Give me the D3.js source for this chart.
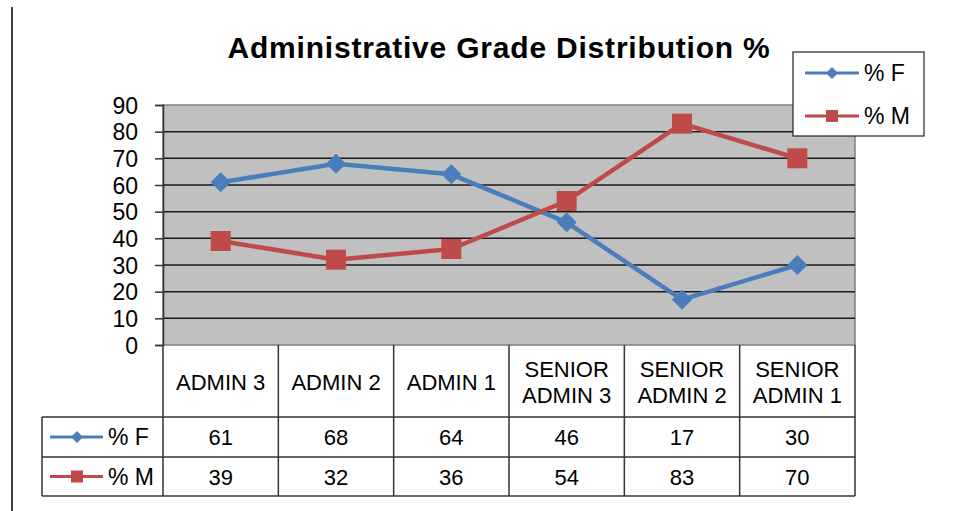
<!DOCTYPE html>
<html lang="en">
  <head>
    <meta charset="UTF-8" />
    <title>Administrative Grade Distribution %</title>
    <script src="https://cdn.jsdelivr.net/npm/d3@7"></script>
    <style>
      body { margin: 0; background: #fff; }
      svg { display: block; font-family: "Liberation Sans", Arial, sans-serif; }
    </style>
  </head>
  <body>
    <svg width="954" height="511"></svg>
    <script>
      // data
      const categories = [["ADMIN 3"], ["ADMIN 2"], ["ADMIN 1"], ["SENIOR", "ADMIN 3"], ["SENIOR", "ADMIN 2"], ["SENIOR", "ADMIN 1"]];
      const femaleValues = [61, 68, 64, 46, 17, 30];
      const maleValues = [39, 32, 36, 54, 83, 70];
      const yTicks = [0, 10, 20, 30, 40, 50, 60, 70, 80, 90];

      const series = [
        { name: "% F", values: femaleValues, color: "#4a7ebb", marker: "diamond" },
        { name: "% M", values: maleValues, color: "#be4b48", marker: "square" },
      ];

      const plot = { left: 163, right: 855, top: 105, bottom: 345 };
      const rowBottoms = [417, 457, 496];

      const svg = d3.select("svg");

      // border line on the left of the chart area
      svg.append("line").attr("x1", 12).attr("x2", 12).attr("y1", 7).attr("y2", 511)
        .attr("stroke", "#000").attr("stroke-width", 1.5);

      svg.append("text").attr("x", 499).attr("y", 58).attr("text-anchor", "middle")
        .attr("font-size", 30).attr("font-weight", "bold").attr("letter-spacing", 0.8)
        .text("Administrative Grade Distribution %");

      const x = d3.scaleBand().domain(d3.range(categories.length)).range([plot.left, plot.right]);
      const y = d3.scaleLinear().domain([0, 90]).range([plot.bottom, plot.top]);

      svg.append("rect").attr("x", plot.left).attr("y", plot.top)
        .attr("width", plot.right - plot.left).attr("height", plot.bottom - plot.top)
        .attr("fill", "#c0c0c0").attr("stroke", "#808080").attr("stroke-width", 1.5);

      svg.append("g").selectAll("line").data(yTicks.slice(1, -1)).join("line")
        .attr("x1", plot.left).attr("x2", plot.right)
        .attr("y1", d => y(d)).attr("y2", d => y(d))
        .attr("stroke", "#1a1a1a").attr("stroke-width", 1.5);

      const yAxis = svg.append("g").attr("transform", `translate(${plot.left},0)`)
        .call(d3.axisLeft(y).tickValues(yTicks).tickSize(8).tickPadding(17));
      yAxis.select(".domain").attr("stroke", "#333").attr("stroke-width", 1.5);
      yAxis.selectAll(".tick line").attr("stroke", "#333").attr("stroke-width", 1.5);
      yAxis.selectAll("text").attr("font-size", 23).attr("fill", "#000")
        .attr("font-family", "Liberation Sans, Arial, sans-serif").attr("dy", "0.36em");

      // lines and markers
      const line = d3.line().x((d, i) => x(i) + x.bandwidth() / 2).y(d => y(d));
      const diamond = s => `M0,${-s}L${s},0L0,${s}L${-s},0Z`;
      const square = s => `M${-s},${-s}H${s}V${s}H${-s}Z`;

      series.forEach(s => {
        svg.append("path").attr("d", line(s.values)).attr("fill", "none")
          .attr("stroke", s.color).attr("stroke-width", 4.5).attr("stroke-linejoin", "round");
      });
      series.forEach(s => {
        svg.append("g").selectAll("path").data(s.values).join("path")
          .attr("transform", (d, i) => `translate(${x(i) + x.bandwidth() / 2},${y(d)})`)
          .attr("d", s.marker === "diamond" ? diamond(10) : square(10))
          .attr("fill", s.color);
      });

      // data table under the plot
      const table = svg.append("g").attr("stroke", "#333").attr("stroke-width", 1.5).attr("fill", "none");
      const tableLeft = 42;
      rowBottoms.forEach(yy => {
        table.append("line").attr("x1", tableLeft).attr("x2", plot.right).attr("y1", yy).attr("y2", yy);
      });
      table.append("line").attr("x1", tableLeft).attr("x2", tableLeft).attr("y1", rowBottoms[0]).attr("y2", rowBottoms[2]);
      d3.range(categories.length + 1).forEach(i => {
        const xx = i < categories.length ? x(i) : plot.right;
        table.append("line").attr("x1", xx).attr("x2", xx).attr("y1", plot.bottom).attr("y2", rowBottoms[2]);
      });

      const headerMid = (plot.bottom + rowBottoms[0]) / 2;
      categories.forEach((lines, i) => {
        const t = svg.append("text").attr("text-anchor", "middle").attr("font-size", 22)
          .attr("x", x(i) + x.bandwidth() / 2);
        lines.forEach((l, j) => {
          t.append("tspan").attr("x", x(i) + x.bandwidth() / 2)
            .attr("y", headerMid + 9 + (j - (lines.length - 1) / 2) * 26).text(l);
        });
      });

      series.forEach((s, r) => {
        const top = rowBottoms[r], bottom = rowBottoms[r + 1];
        const mid = (top + bottom) / 2;
        svg.append("g").selectAll("text").data(s.values).join("text")
          .attr("x", (d, i) => x(i) + x.bandwidth() / 2).attr("y", mid + 8)
          .attr("text-anchor", "middle").attr("font-size", 22).text(d => d);
        svg.append("line").attr("x1", 50).attr("x2", 103).attr("y1", mid).attr("y2", mid)
          .attr("stroke", s.color).attr("stroke-width", 3);
        svg.append("path").attr("transform", `translate(77,${mid})`)
          .attr("d", s.marker === "diamond" ? diamond(6) : square(6)).attr("fill", s.color);
        svg.append("text").attr("x", 108).attr("y", mid + 8).attr("font-size", 23).text(s.name);
      });

      // legend
      const legend = svg.append("g");
      legend.append("rect").attr("x", 793).attr("y", 52).attr("width", 131).attr("height", 84)
        .attr("fill", "#fff").attr("stroke", "#222").attr("stroke-width", 1.2);
      series.forEach((s, i) => {
        const ly = 73 + i * 43;
        legend.append("line").attr("x1", 805).attr("x2", 859).attr("y1", ly).attr("y2", ly)
          .attr("stroke", s.color).attr("stroke-width", 3);
        legend.append("path").attr("transform", `translate(832,${ly})`)
          .attr("d", s.marker === "diamond" ? diamond(6) : square(6)).attr("fill", s.color);
        legend.append("text").attr("x", 864).attr("y", ly + 8).attr("font-size", 23).text(s.name);
      });
    </script>
  </body>
</html>
